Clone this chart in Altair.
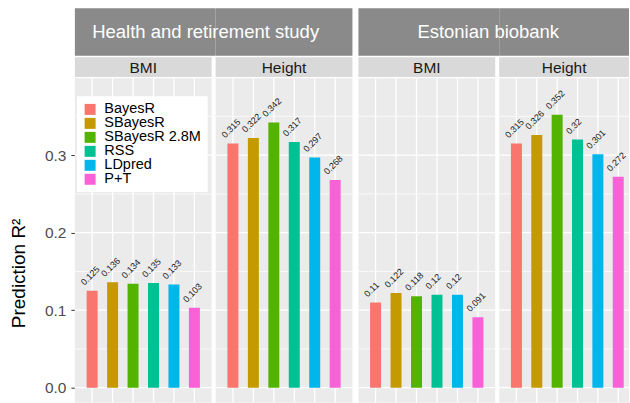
import altair as alt
import pandas as pd

methods = ["BayesR", "SBayesR", "SBayesR 2.8M", "RSS", "LDpred", "P+T"]
colors = ["#F8766D", "#C49A00", "#53B400", "#00C094", "#00B6EB", "#FB61D7"]
studies = ["Health and retirement study", "Estonian biobank"]
traits = ["BMI", "Height"]
hrs_bmi = [0.125, 0.136, 0.134, 0.135, 0.133, 0.103]
hrs_height = [0.315, 0.322, 0.342, 0.317, 0.297, 0.268]
eb_bmi = [0.11, 0.122, 0.118, 0.12, 0.12, 0.091]
eb_height = [0.315, 0.326, 0.352, 0.32, 0.301, 0.272]
y_major = [0.0, 0.1, 0.2, 0.3]
y_minor = [0.05, 0.15, 0.25, 0.35]

FONT = "Liberation Sans"
PW = 137          # full panel width
PH = 325          # visible panel height
UNIT = PW / 6.2   # px per category
Y_DOM = [-0.0193, 0.3992]


def panel(values, trait, width, xoff=0, first=False, outer_label=None,
          outer_x2=None, outer_text_x=None, strip_text_x=None):
    xmin = 0.4 - xoff / UNIT
    xmax = 0.4 + (width - xoff) / UNIT
    df = pd.DataFrame({
        "method": methods,
        "idx": list(range(1, 7)),
        "value": values,
        "label": [str(v) for v in values],
    })
    xs = alt.Scale(domain=[xmin, xmax], nice=False, zero=False)
    ys = alt.Scale(domain=Y_DOM, nice=False, zero=False)

    if first:
        yaxis = alt.Axis(values=y_major, format=".1f", grid=False, domain=False,
                         tickColor="#333333", tickSize=4, tickWidth=1,
                         labelFont=FONT, labelFontSize=15.5, labelColor="#4d4d4d",
                         labelPadding=5, title="Prediction R²", titleFont=FONT,
                         titleFontSize=19, titleFontWeight="normal",
                         titleColor="black", titlePadding=16, titleY=195)
        legend = alt.Legend(orient="none", legendX=2, legendY=18, title=None,
                            symbolType="square", symbolSize=121,
                            symbolStrokeWidth=0, labelFont=FONT,
                            labelFontSize=14.5, labelColor="black",
                            fillColor="white", padding=6, rowPadding=-3.8,
                            labelOffset=7)
    else:
        yaxis = None
        legend = None

    sdf = pd.DataFrame({"t": [trait]})
    hmin = alt.Chart(pd.DataFrame({"v": y_minor})).mark_rule(
        color="white", strokeWidth=0.7).encode(
        y=alt.Y("v:Q", scale=ys, axis=yaxis), x=alt.value(xoff), x2=alt.value(width))
    bg = alt.Chart(sdf).mark_rect(color="#ebebeb").encode(
        x=alt.value(xoff), x2=alt.value(width), y=alt.value(0), y2=alt.value(PH))
    vgrid = alt.Chart(df).mark_rule(color="white", strokeWidth=1.3, clip=True).encode(
        x=alt.X("idx:Q", scale=xs, axis=None))
    hmaj = alt.Chart(pd.DataFrame({"v": y_major})).mark_rule(
        color="white", strokeWidth=1.3).encode(
        y=alt.Y("v:Q", scale=ys, axis=yaxis), x=alt.value(xoff), x2=alt.value(width))

    bars = alt.Chart(df).mark_bar(size=11, clip=True).encode(
        x=alt.X("idx:Q", scale=xs, axis=None),
        y=alt.Y("value:Q", scale=ys, axis=yaxis),
        y2=alt.datum(0),
        color=alt.Color("method:N", scale=alt.Scale(domain=methods, range=colors),
                        legend=legend),
    )
    labels = alt.Chart(df).mark_text(
        angle=315, align="left", baseline="alphabetic", dx=-2, dy=-9,
        fontSize=9, font=FONT, color="#222222", clip=True).encode(
        x=alt.X("idx:Q", scale=xs, axis=None),
        y=alt.Y("value:Q", scale=ys, axis=yaxis),
        text="label:N",
    )

    layers = [bg, hmin, vgrid, hmaj, bars, labels]

    # inner strip
    layers.append(alt.Chart(sdf).mark_rect(color="#d9d9d9").encode(
        x=alt.value(xoff), x2=alt.value(width), y=alt.value(-21), y2=alt.value(-1.3)))
    layers.append(alt.Chart(sdf).mark_text(
        font=FONT, fontSize=15.5, color="#1a1a1a", align="center",
        baseline="middle").encode(x=alt.value(strip_text_x), y=alt.value(-10.5),
                                  text="t:N"))
    # outer strip part
    layers.append(alt.Chart(sdf).mark_rect(color="#8a8a8a").encode(
        x=alt.value(xoff), x2=alt.value(outer_x2), y=alt.value(-70),
        y2=alt.value(-22.5)))
    if outer_label is not None:
        odf = pd.DataFrame({"s": [outer_label]})
        layers.append(alt.Chart(odf).mark_text(
            font=FONT, fontSize=18.5, color="white", align="center",
            baseline="middle").encode(x=alt.value(outer_text_x), y=alt.value(-46),
                                      text="s:N"))

    return alt.layer(*layers).properties(width=width, height=PH)


p1 = panel(hrs_bmi, traits[0], PW, first=True, outer_x2=PW + 4,
           strip_text_x=PW / 2)
p2 = panel(hrs_height, traits[1], PW, outer_label=studies[0], outer_x2=PW,
           outer_text_x=-10, strip_text_x=PW / 2)
p3 = panel(eb_bmi, traits[0], PW + 2, xoff=2, outer_x2=PW + 6,
           strip_text_x=2 + PW / 2)
p4 = panel(eb_height, traits[1], 130, outer_label=studies[1], outer_x2=130,
           outer_text_x=-11, strip_text_x=65)

chart = alt.hconcat(p1, p2, p3, p4, spacing=4, bounds="flush").resolve_scale(
    color="independent").resolve_legend(color="independent").properties(
    padding={"left": 9, "top": 8, "right": 0, "bottom": 0},
    background="white",
).configure_view(fill=None, stroke=None)

chart.save("out.html", embed_options={"renderer": "svg", "actions": False})
